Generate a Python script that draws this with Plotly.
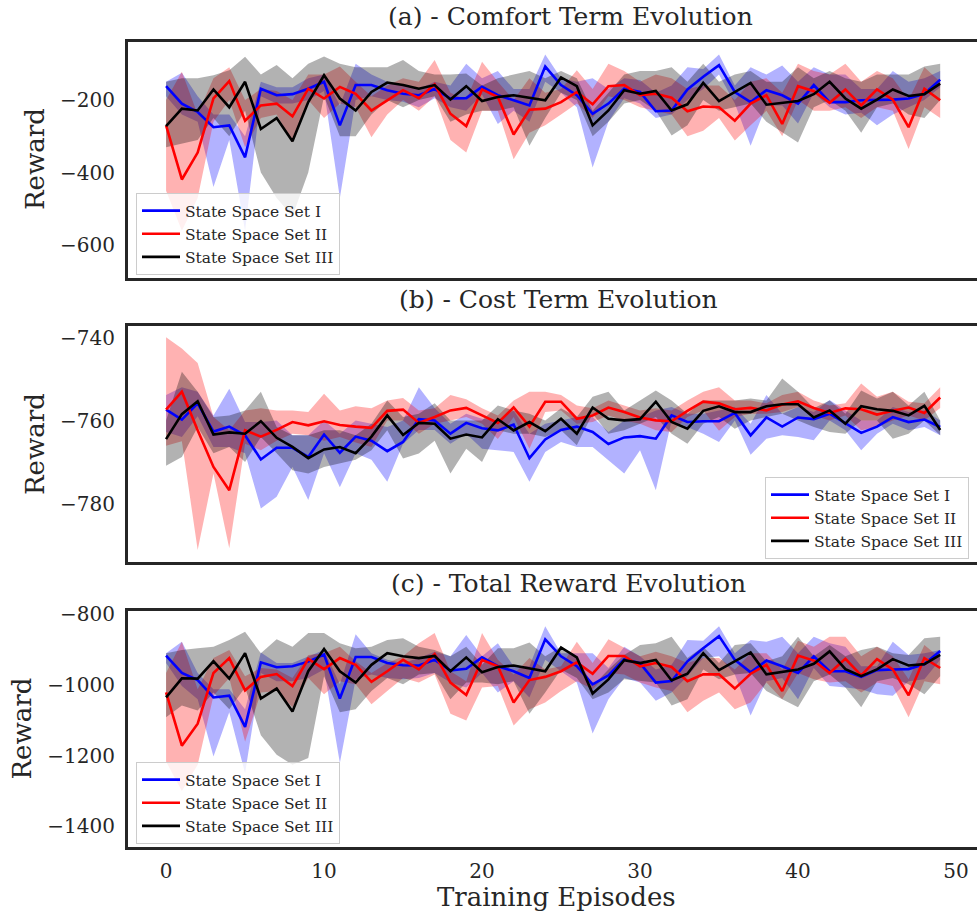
import plotly.graph_objects as go

episodes = list(range(50))
series_names = ["State Space Set I", "State Space Set II", "State Space Set III"]
panel_titles = ["(a) - Comfort Term Evolution", "(b) - Cost Term Evolution", "(c) - Total Reward Evolution"]
x_ticks = [0, 10, 20, 30, 40, 50]
y_ticks_a = [-200, -400, -600]
y_ticks_b = [-740, -760, -780]
y_ticks_c = [-800, -1000, -1200, -1400]

# ---------------- (a) Comfort term ----------------
blue_a = [-162,-210,-233,-275,-270,-358,-169,-187,-184,-169,-150,-270,-159,-159,-173,-183,
          -187,-170,-196,-195,-164,-187,-201,-215,-108,-159,-187,-238,-210,-169,-178,-231,-229,-171,
          -136,-104,-178,-206,-173,-187,-210,-159,-206,-206,-201,-201,-199,-196,-183,-144]
blue_a_hi = [-150,-125,-190,-240,-240,-300,-150,-165,-165,-140,-130,-215,-100,-130,-150,-160,
             -170,-150,-160,-100,-140,-120,-170,-170,-75,-140,-150,-140,-170,-140,-145,-180,-160,-110,
             -115,-75,-160,-110,-130,-105,-150,-110,-130,-130,-170,-170,-120,-150,-140,-120]
blue_a_lo = [-190,-240,-260,-440,-310,-560,-190,-210,-210,-200,-175,-470,-200,-190,-200,-205,
             -220,-195,-220,-230,-185,-266,-230,-260,-150,-180,-220,-386,-260,-195,-210,-250,-240,-200,
             -170,-130,-210,-326,-215,-215,-265,-180,-220,-240,-235,-270,-240,-220,-200,-165]
red_a = [-270,-419,-345,-196,-148,-257,-215,-210,-245,-169,-196,-164,-183,-229,-201,-173,
         -195,-157,-238,-272,-171,-192,-295,-227,-224,-206,-178,-212,-162,-159,-187,-183,-194,-231,
         -218,-220,-257,-210,-187,-266,-162,-176,-208,-171,-215,-171,-199,-275,-169,-201]
red_a_hi = [-200,-122,-240,-140,-110,-200,-170,-175,-200,-130,-130,-108,-150,-190,-160,-140,
            -150,-90,-180,-200,-95,-150,-200,-140,-180,-170,-118,-170,-100,-120,-150,-130,-140,-170,
            -160,-160,-200,-150,-140,-180,-100,-120,-130,-100,-150,-120,-140,-200,-110,-150]
red_a_lo = [-450,-560,-470,-260,-200,-330,-250,-240,-317,-200,-250,-210,-220,-303,-240,-200,
            -230,-190,-310,-345,-230,-230,-363,-290,-270,-240,-210,-250,-190,-200,-220,-230,-240,-300,
            -285,-250,-312,-270,-230,-300,-200,-230,-230,-220,-250,-220,-230,-335,-220,-250]
black_a = [-272,-224,-229,-171,-220,-150,-280,-250,-314,-206,-132,-196,-229,-178,-152,-159,
           -169,-159,-199,-162,-203,-192,-187,-194,-201,-138,-162,-270,-229,-173,-183,-175,-229,-212,
           -153,-203,-178,-153,-213,-208,-203,-184,-150,-196,-224,-199,-171,-189,-184,-155]
black_a_hi = [-150,-140,-140,-132,-118,-81,-130,-104,-140,-100,-80,-100,-110,-110,-110,-90,
              -120,-130,-130,-127,-160,-140,-130,-120,-140,-120,-140,-230,-180,-130,-120,-120,-110,-150,
              -100,-150,-130,-120,-150,-150,-110,-140,-120,-140,-150,-130,-130,-130,-108,-100]
black_a_lo = [-330,-320,-310,-250,-300,-230,-400,-470,-520,-400,-190,-300,-300,-240,-200,-220,
              -200,-190,-260,-240,-230,-230,-220,-326,-250,-180,-200,-300,-260,-210,-200,-230,-298,-270,
              -200,-230,-220,-210,-260,-289,-317,-220,-200,-230,-290,-220,-210,-240,-250,-200]

# ---------------- (b) Cost term ----------------
blue_b = [-757.3,-759.7,-755.8,-762.6,-761.4,-763.5,-769.3,-766.5,-766.5,-768.7,-763.3,-767.7,-763.8,-764.8,-767.3,-765.1,
          -759.6,-759.9,-763.1,-760.5,-761.8,-762.3,-760.9,-769.0,-764.5,-762.2,-761.4,-762.7,-765.6,-764.0,-763.7,-764.3,-758.7,-760.3,
          -760.1,-760.1,-758.1,-763.5,-759.2,-761.4,-759.2,-759.6,-758.3,-760.5,-762.9,-761.4,-759.1,-760.3,-759.7,-761.5]
blue_b_hi = [-753.8,-751.9,-753.0,-758.7,-752.3,-760.3,-760.3,-759.9,-763.5,-763.5,-759.9,-763.1,-759.9,-760.7,-761.5,-759.9,
             -751.9,-756.9,-760.7,-758.3,-759.5,-759.9,-757.5,-763.1,-760.7,-759.9,-759.1,-759.1,-762.7,-759.9,-759.1,-757.5,-756.7,-758.3,
             -758.3,-757.5,-756.7,-760.7,-753.8,-758.3,-756.7,-757.9,-755.0,-757.5,-759.9,-759.9,-756.7,-757.9,-757.5,-759.9]
blue_b_lo = [-762.7,-763.9,-758.9,-766.3,-766.3,-767.8,-781.1,-778.3,-771.1,-779.1,-767.8,-776.0,-767.8,-769.4,-774.7,-765.5,
             -762.2,-762.2,-765.5,-763.1,-766.7,-767.1,-767.5,-774.7,-767.5,-765.1,-766.3,-766.3,-769.4,-772.7,-767.1,-776.7,-759.9,-761.5,
             -763.1,-765.1,-759.9,-768.2,-764.3,-763.5,-763.9,-764.7,-759.9,-762.3,-767.1,-763.1,-760.7,-762.3,-761.5,-763.5]
red_b = [-757.3,-753.0,-762.3,-771.1,-776.7,-762.3,-763.8,-762.2,-760.3,-761.1,-760.1,-761.0,-761.4,-761.7,-757.6,-757.3,
         -760.5,-759.1,-757.5,-756.9,-758.7,-760.5,-756.8,-761.4,-755.4,-755.4,-759.5,-758.7,-756.8,-757.9,-759.2,-759.9,-760.1,-757.6,
         -755.4,-755.8,-757.2,-756.9,-757.5,-756.1,-755.3,-756.9,-758.1,-757.0,-757.2,-758.5,-757.6,-756.8,-758.1,-754.4]
red_b_hi = [-739.9,-742.6,-746.1,-759.1,-762.3,-757.5,-757.0,-757.5,-757.5,-757.9,-753.5,-757.5,-756.5,-757.0,-755.1,-754.5,
            -757.5,-757.0,-753.8,-754.8,-757.0,-758.7,-755.1,-753.0,-753.0,-753.8,-756.3,-757.0,-755.1,-756.3,-757.5,-757.0,-757.5,-755.1,
            -753.0,-751.9,-755.1,-755.1,-755.8,-753.8,-753.0,-755.1,-756.3,-755.8,-751.0,-754.2,-753.0,-755.4,-755.8,-751.9]
red_b_lo = [-766.0,-764.9,-791.1,-772.7,-790.7,-765.5,-767.1,-764.8,-763.1,-763.5,-764.8,-763.9,-765.2,-766.3,-759.9,-759.9,
            -763.1,-760.7,-759.9,-759.1,-760.7,-764.4,-759.1,-766.7,-757.9,-757.5,-760.7,-760.3,-758.7,-759.9,-760.7,-762.3,-762.7,-759.1,
            -757.5,-762.4,-759.1,-758.3,-758.3,-757.9,-756.7,-758.7,-759.9,-758.7,-762.3,-761.5,-759.9,-758.7,-759.9,-756.9]
black_b = [-764.4,-758.4,-755.3,-763.3,-762.8,-763.1,-760.1,-764.1,-766.3,-769.0,-766.9,-766.3,-767.8,-763.8,-758.7,-763.4,
           -760.5,-760.7,-764.3,-763.3,-764.0,-759.6,-762.3,-760.3,-762.5,-759.5,-763.1,-756.8,-759.5,-759.9,-759.6,-755.4,-760.3,-761.9,
           -757.6,-756.5,-757.9,-757.9,-756.5,-756.0,-756.0,-759.2,-757.5,-760.7,-756.5,-757.2,-757.6,-758.7,-756.4,-762.2]
black_b_hi = [-759.9,-748.2,-753.0,-759.1,-758.7,-757.5,-753.0,-761.5,-763.5,-763.5,-762.3,-762.3,-763.5,-760.7,-755.1,-759.1,
              -758.3,-755.8,-759.9,-759.9,-759.9,-756.3,-757.5,-758.3,-759.9,-757.0,-759.1,-754.2,-753.0,-757.5,-755.1,-752.7,-755.1,-758.3,
              -755.1,-755.1,-755.1,-754.6,-755.1,-749.8,-753.0,-757.0,-755.1,-758.3,-752.7,-754.6,-753.0,-756.3,-753.0,-759.9]
black_b_lo = [-770.8,-768.7,-761.5,-767.8,-766.3,-769.9,-763.9,-767.8,-771.9,-772.7,-771.1,-770.3,-769.4,-767.1,-762.3,-769.1,
              -767.9,-764.8,-772.7,-766.7,-769.9,-762.3,-763.1,-763.1,-763.9,-762.3,-765.9,-758.3,-763.1,-762.3,-760.7,-759.1,-763.1,-765.5,
              -760.7,-759.1,-761.9,-759.9,-759.1,-758.3,-759.9,-761.5,-762.7,-763.1,-759.9,-759.9,-764.3,-763.1,-759.9,-763.5]

# ---------------- (c) Total reward ----------------
blue_c = [-918,-967,-987,-1036,-1031,-1119,-937,-951,-948,-935,-915,-1039,-922,-922,-939,-945,
          -946,-930,-960,-955,-923,-948,-962,-981,-872,-920,-948,-999,-974,-928,-939,-994,-990,-934,
          -897,-863,-930,-965,-932,-948,-967,-920,-962,-962,-978,-959,-957,-956,-942,-905]
blue_c_hi = [-911,-879,-967,-1013,-1013,-1069,-909,-939,-939,-920,-902,-999,-858,-911,-930,-939,
             -925,-907,-920,-860,-920,-883,-948,-948,-835,-911,-911,-911,-953,-893,-920,-957,-944,-874,
             -876,-835,-911,-874,-879,-865,-911,-865,-883,-893,-948,-948,-879,-916,-911,-902]
blue_c_lo = [-939,-1004,-1041,-1203,-1078,-1250,-967,-990,-990,-981,-957,-1221,-985,-971,-981,-985,
             -981,-967,-994,-1008,-967,-1022,-990,-1036,-930,-962,-994,-1138,-1041,-981,-994,-1045,-1022,-976,
             -925,-920,-971,-1087,-990,-981,-1041,-953,-1004,-1008,-1013,-1027,-1031,-990,-985,-930]
red_c = [-1022,-1172,-1110,-967,-925,-1016,-978,-970,-1004,-927,-956,-925,-944,-992,-962,-930,
         -957,-914,-994,-1029,-930,-948,-1050,-987,-978,-962,-937,-969,-919,-919,-948,-939,-950,-990,
         -971,-971,-1011,-969,-944,-1018,-918,-932,-967,-927,-974,-928,-957,-1030,-925,-953]
red_c_hi = [-967,-879,-1013,-925,-902,-976,-953,-957,-981,-916,-911,-893,-934,-967,-939,-920,
            -883,-854,-962,-990,-854,-930,-971,-925,-957,-948,-879,-939,-872,-897,-920,-907,-920,-939,
            -925,-925,-957,-911,-911,-957,-876,-893,-865,-865,-920,-893,-920,-985,-888,-925]
red_c_lo = [-1217,-1300,-1226,-1031,-981,-1161,-1022,-1018,-1064,-981,-1027,-990,-999,-1055,-1018,-981,
            -994,-971,-1082,-1101,-1008,-1004,-1115,-1069,-1050,-1018,-990,-1013,-967,-971,-994,-1008,-1018,-1078,
            -1045,-1022,-1069,-1050,-994,-1041,-967,-985,-994,-990,-1022,-994,-1004,-1092,-990,-999]
black_c = [-1036,-982,-983,-934,-983,-911,-1039,-1011,-1076,-962,-899,-962,-994,-944,-911,-920,
           -925,-919,-962,-923,-965,-950,-946,-953,-962,-895,-923,-1025,-985,-931,-939,-930,-988,-969,
           -911,-959,-934,-909,-971,-965,-957,-941,-906,-956,-976,-957,-928,-946,-942,-916]
black_c_hi = [-911,-902,-897,-893,-874,-851,-911,-872,-893,-854,-854,-883,-897,-893,-874,-869,
              -893,-902,-920,-893,-944,-897,-897,-881,-920,-893,-920,-1004,-957,-916,-888,-883,-865,-925,
              -893,-939,-888,-883,-934,-920,-865,-920,-888,-920,-902,-893,-911,-916,-869,-865]
black_c_lo = [-1092,-1059,-1073,-1022,-1069,-1008,-1143,-1198,-1226,-1207,-976,-1078,-1069,-1018,-981,-999,
              -971,-967,-1041,-994,-994,-999,-990,-1082,-1022,-957,-981,-1041,-1022,-985,-990,-994,-1059,-1041,
              -957,-985,-971,-967,-1018,-1041,-1064,-990,-971,-1008,-1064,-990,-981,-999,-1027,-976]

# ---------------- figure ----------------
W, H = 977, 918
FONT = "DejaVu Serif"
TXT = "#262626"
line_colors = ["#0000ff", "#ff0000", "#000000"]
band_colors = ["rgba(0,0,255,0.3)", "rgba(255,0,0,0.3)", "rgba(0,0,0,0.3)"]

panels = [
    dict(lines=[blue_a, red_a, black_a], his=[blue_a_hi, red_a_hi, black_a_hi], los=[blue_a_lo, red_a_lo, black_a_lo],
         top=41.5, bottom=277.5, yrange=[-689, -39], yticks=y_ticks_a, legend="legend"),
    dict(lines=[blue_b, red_b, black_b], his=[blue_b_hi, red_b_hi, black_b_hi], los=[blue_b_lo, red_b_lo, black_b_lo],
         top=325.5, bottom=562, yrange=[-794.0, -737.05], yticks=y_ticks_b, legend="legend2"),
    dict(lines=[blue_c, red_c, black_c], his=[blue_c_hi, red_c_hi, black_c_hi], los=[blue_c_lo, red_c_lo, black_c_lo],
         top=610.5, bottom=847, yrange=[-1458, -790.7], yticks=y_ticks_c, legend="legend3"),
]

fig = go.Figure()
layout = dict(width=W, height=H, margin=dict(l=0, r=0, t=0, b=0, pad=0, autoexpand=False),
              paper_bgcolor="white", plot_bgcolor="white",
              font=dict(family=FONT, color=TXT), showlegend=True)

x_left = 128 / W
for k, p in enumerate(panels):
    sfx = "" if k == 0 else str(k + 1)
    xa, ya = "x" + sfx, "y" + sfx
    for j in range(3):
        fig.add_trace(go.Scatter(
            x=episodes + episodes[::-1], y=p["his"][j] + p["los"][j][::-1],
            xaxis=xa, yaxis=ya, fill="toself", fillcolor=band_colors[j],
            line=dict(width=0), mode="lines", hoverinfo="skip", showlegend=False))
    for j in range(3):
        fig.add_trace(go.Scatter(
            x=episodes, y=p["lines"][j], xaxis=xa, yaxis=ya, mode="lines",
            line=dict(color=line_colors[j], width=2.6), name=series_names[j],
            legend=p["legend"], showlegend=True))
    layout["xaxis" + sfx] = dict(
        domain=[x_left, 1], anchor=ya, range=[-2.41, 51.33], automargin=False,
        showline=True, linecolor=TXT, linewidth=3, mirror=True,
        showgrid=False, zeroline=False,
        tickvals=x_ticks, ticktext=[str(v) for v in x_ticks],
        showticklabels=(k == 2), ticks="outside", ticklen=4, tickcolor="rgba(0,0,0,0)",
        tickfont=dict(size=20, family=FONT, color=TXT))
    layout["yaxis" + sfx] = dict(
        domain=[1 - p["bottom"] / H, 1 - p["top"] / H], anchor=xa, range=p["yrange"], automargin=False,
        showline=True, linecolor=TXT, linewidth=3, mirror=False,
        showgrid=False, zeroline=False,
        tickvals=p["yticks"], ticktext=["\u2212" + str(abs(v)) for v in p["yticks"]],
        ticks="outside", ticklen=6, tickcolor="rgba(0,0,0,0)",
        tickfont=dict(size=20, family=FONT, color=TXT))

leg_common = dict(font=dict(size=15.5, family=FONT, color=TXT), bgcolor="rgba(255,255,255,0.8)",
                  bordercolor="#cccccc", borderwidth=1, xanchor="left", yanchor="top",
                  itemwidth=38, tracegroupgap=0)
layout["legend"] = dict(leg_common, x=136 / W, y=1 - 193 / H)
layout["legend2"] = dict(leg_common, x=765 / W, y=1 - 477 / H)
layout["legend3"] = dict(leg_common, x=136 / W, y=1 - 762 / H)

ann = []
title_pos = [(570, 17), (558, 300), (568, 583)]
for t, (cx, cy) in zip(panel_titles, title_pos):
    ann.append(dict(text=t, x=cx / W, y=1 - cy / H, xref="paper", yref="paper",
                    xanchor="center", yanchor="middle", showarrow=False,
                    font=dict(size=25, family=FONT, color=TXT)))
for cx, cy in [(35, 159), (35, 444), (21.5, 729)]:
    ann.append(dict(text="Reward", x=cx / W, y=1 - cy / H, xref="paper", yref="paper",
                    xanchor="center", yanchor="middle", textangle=-90, showarrow=False,
                    font=dict(size=26, family=FONT, color=TXT)))
ann.append(dict(text="Training Episodes", x=556 / W, y=1 - 897 / H, xref="paper", yref="paper",
                xanchor="center", yanchor="middle", showarrow=False,
                font=dict(size=26, family=FONT, color=TXT)))
layout["annotations"] = ann

fig.update_layout(**layout)
fig.write_html(
    "out.html",
    config={"displayModeBar": False},
    post_script=("document.documentElement.style.margin='0px';"
                 "document.body.style.margin='0px';document.body.style.padding='0px';"
                 "var d=document.getElementById('{plot_id}');"
                 "d.style.position='fixed';d.style.top='0px';d.style.left='0px';"))
